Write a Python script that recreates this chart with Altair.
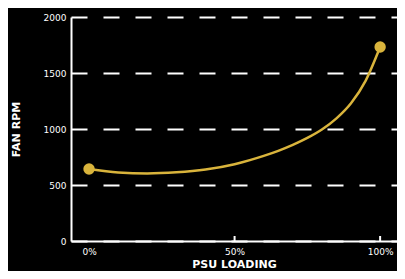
import altair as alt
import pandas as pd

load_pct = [0, 10, 20, 30, 40, 50, 60, 65, 70, 75, 80, 85, 90, 95, 100]
fan_rpm = [643, 612, 603, 613, 638, 686, 760, 805, 858, 920, 995, 1095, 1230, 1430, 1732]
end_pct = [0, 100]
end_rpm = [643, 1732]
tick_pct = [50, 100]

YELLOW = "#D9B43C"
FONT = "DejaVu Sans"

curve = pd.DataFrame({"load": load_pct, "rpm": fan_rpm})
ends = pd.DataFrame({"load": end_pct, "rpm": end_rpm})
ticks = pd.DataFrame({"load": tick_pct})

xscale = alt.Scale(domain=[-6.2, 105.8], nice=False, zero=False)
yscale = alt.Scale(domain=[0, 2000], nice=False)

xaxis = alt.Axis(
    title="PSU LOADING", values=[0, 50, 100], format=".0f",
    labelExpr="datum.value + '%'", ticks=False, grid=False,
    domainColor="white", domainWidth=2, labelColor="white",
    labelFont=FONT, labelFontSize=9, labelPadding=6,
    titleColor="white", titleFont=FONT, titleFontSize=11,
    titleFontWeight="bold", titlePadding=2,
)
yaxis = alt.Axis(
    title="FAN RPM", values=[0, 500, 1000, 1500, 2000], format="d",
    ticks=False, grid=True, gridColor="white", gridDash=[16, 16],
    gridWidth=2, domainColor="white", domainWidth=2,
    labelColor="white", labelFont=FONT, labelFontSize=9, labelPadding=5,
    titleColor="white", titleFont=FONT, titleFontSize=11,
    titleFontWeight="bold", titlePadding=22,
)

line = alt.Chart(curve).mark_line(
    color=YELLOW, strokeWidth=2.5, interpolate="monotone"
).encode(
    x=alt.X("load:Q", scale=xscale, axis=xaxis),
    y=alt.Y("rpm:Q", scale=yscale, axis=yaxis),
)

points = alt.Chart(ends).mark_circle(color=YELLOW, size=130, opacity=1).encode(
    x=alt.X("load:Q", scale=xscale),
    y=alt.Y("rpm:Q", scale=yscale),
)

tick_marks = alt.Chart(ticks).mark_rule(color="white", strokeWidth=2).encode(
    x=alt.X("load:Q", scale=xscale),
    y=alt.value(219),
    y2=alt.value(224),
)

chart = alt.layer(line, tick_marks, points).properties(
    width=326, height=224,
    background="black",
    padding={"left": 63, "top": 9, "right": 0, "bottom": 30},
    autosize=alt.AutoSizeParams(type="none"),
).configure_view(stroke=None)

chart.save("out.html", embed_options={"renderer": "svg", "actions": False})
